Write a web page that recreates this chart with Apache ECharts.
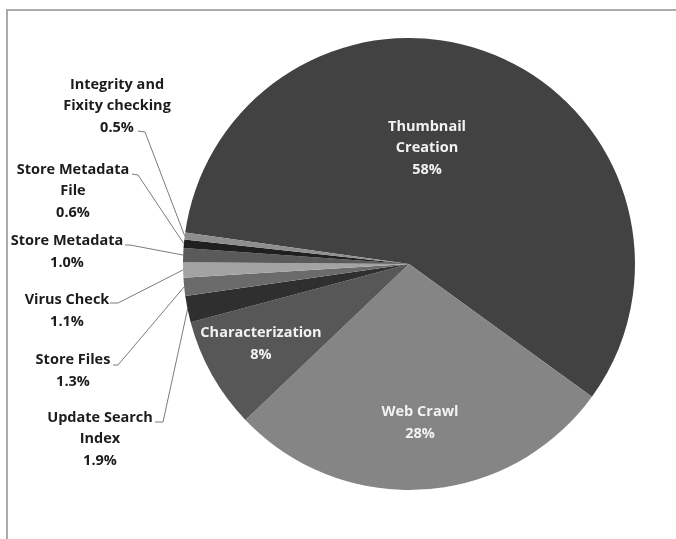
<!DOCTYPE html>
<html>
<head>
<meta charset="utf-8">
<script src="https://cdn.jsdelivr.net/npm/echarts@6/dist/echarts.min.js"></script>
<style>
  html, body { margin: 0; padding: 0; background: #fff; }
  #chart { width: 676px; height: 539px; }
</style>
</head>
<body>
<div id="chart"></div>
<script>
// slice names (with the line breaks of the original labels) and their shares in %
var categories = [
  'Thumbnail\nCreation',
  'Web Crawl',
  'Characterization',
  'Update Search\nIndex',
  'Store Files',
  'Virus Check',
  'Store Metadata',
  'Store Metadata\nFile',
  'Integrity and\nFixity checking'
]
var shares = [58, 28, 8, 1.9, 1.3, 1.1, 1.0, 0.6, 0.5]

// where each label sits; for the outside ones also the elbow and tick end of the leader
var labelSpots = [
  { x: 427, y: 148 },
  { x: 420, y: 423 },
  { x: 261, y: 344 },
  { x: 100, y: 439, elbow: [163, 422], tick: [155, 422] },
  { x: 73, y: 371, elbow: [118, 365], tick: [113, 365] },
  { x: 67, y: 311, elbow: [118, 303], tick: [110, 303] },
  { x: 67, y: 252, elbow: [130, 245], tick: [125, 245] },
  { x: 73, y: 191, elbow: [138, 175], tick: [132, 174] },
  { x: 117, y: 106, elbow: [145, 132], tick: [138, 131] }
]

var chart = echarts.init(document.getElementById('chart'))

var seriesData = categories.map(function (name, i) {
  var inside = i < 3
  return {
    name: name,
    value: shares[i],
    label: {
      position: inside ? 'inside' : 'outside',
      color: inside ? '#f2f2f2' : '#1c1c1c'
    },
    labelLine: { show: !inside }
  }
})

chart.setOption({
  animation: false,
  color: ['#424242', '#858585', '#575757', '#2f2f2f', '#6b6b6b', '#a3a3a3', '#5a5a5a', '#1f1f1f', '#8e8e8e'],
  graphic: [
    {
      type: 'polyline',
      silent: true,
      shape: { points: [[7, 539], [7, 10], [676, 10]] },
      style: { stroke: '#ababab', lineWidth: 2, fill: null }
    }
  ],
  series: [
    {
      type: 'pie',
      center: [409, 264],
      radius: 226,
      startAngle: 172,
      clockwise: true,
      avoidLabelOverlap: false,
      itemStyle: { borderWidth: 0 },
      emphasis: { disabled: true },
      label: {
        show: true,
        fontFamily: 'Open Sans',
        fontWeight: 'bold',
        fontSize: 14.5,
        lineHeight: 21.5,
        align: 'center',
        formatter: function (p) {
          var v = p.value
          return p.name + '\n' + (v < 5 ? v.toFixed(1) : v) + '%'
        }
      },
      labelLine: {
        lineStyle: { color: '#7a7a7a', width: 1 }
      },
      labelLayout: function (params) {
        var spot = labelSpots[params.dataIndex]
        var out = { x: spot.x, y: spot.y, align: 'center', verticalAlign: 'middle' }
        if (spot.elbow && params.labelLinePoints) {
          out.labelLinePoints = [params.labelLinePoints[0], spot.elbow, spot.tick]
        }
        return out
      },
      data: seriesData
    }
  ]
})
</script>
</body>
</html>
